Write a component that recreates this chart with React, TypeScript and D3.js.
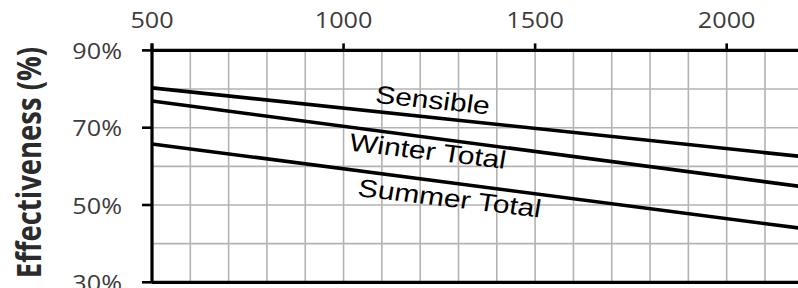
import { useEffect, useRef } from "react";
import * as d3 from "d3";

const xTicks = [500, 1000, 1500, 2000];
const yTicks = [30, 50, 70, 90];
const seriesNames = ["Sensible", "Winter Total", "Summer Total"];
const airflow = [500, 2200];
const sensible = [80.3, 62.5];
const winterTotal = [76.9, 54.7];
const summerTotal = [65.8, 43.9];
// label anchor points (airflow, effectiveness) for the in-chart labels
const labelX = [1233, 1220, 1277];
const labelY = [77.2, 64.0, 51.8];
const labelAngle = [7, 8, 8];

const App = () => {
    const svgRef = useRef<SVGSVGElement>(null);
    const W = 798;
    const H = 288;
    const stretch = 1.2;

    useEffect(() => {
        const svg = d3.select(svgRef.current);
        svg.selectAll("*").remove();

        const xScale = d3.scaleLinear().domain([500, 2200]).range([152, 803.3]);
        const yScale = d3.scaleLinear().domain([30, 90]).range([282.3, 50.4]);

        // grid
        svg
            .append("g")
            .selectAll("line")
            .data(d3.range(600, 2300, 100))
            .enter()
            .append("line")
            .attr("x1", (d) => xScale(d))
            .attr("x2", (d) => xScale(d))
            .attr("y1", yScale(90))
            .attr("y2", yScale(30))
            .style("stroke", "#b3b3b3")
            .style("stroke-width", 1.6);

        svg
            .append("g")
            .selectAll("line")
            .data(d3.range(40, 90, 10))
            .enter()
            .append("line")
            .attr("x1", xScale(500))
            .attr("x2", xScale(2200))
            .attr("y1", (d) => yScale(d))
            .attr("y2", (d) => yScale(d))
            .style("stroke", "#b3b3b3")
            .style("stroke-width", 1.6);

        // axes frame
        const axisStyle = (sel: any) => sel.style("stroke", "#000").style("stroke-width", 3.2);
        svg.append("line").attr("x1", xScale(500)).attr("x2", xScale(2200))
            .attr("y1", yScale(90)).attr("y2", yScale(90)).call(axisStyle);
        svg.append("line").attr("x1", xScale(500)).attr("x2", xScale(2200))
            .attr("y1", yScale(30)).attr("y2", yScale(30)).call(axisStyle);
        svg.append("line").attr("x1", xScale(500)).attr("x2", xScale(500))
            .attr("y1", yScale(90) - 7).attr("y2", yScale(30)).call(axisStyle);

        // top ticks
        svg.append("g").selectAll("line").data(xTicks).enter().append("line")
            .attr("x1", (d) => xScale(d)).attr("x2", (d) => xScale(d))
            .attr("y1", yScale(90) - 7).attr("y2", yScale(90))
            .style("stroke", "#000").style("stroke-width", 2.6);

        // left ticks
        svg.append("g").selectAll("line").data(yTicks).enter().append("line")
            .attr("x1", xScale(500) - 10).attr("x2", xScale(500))
            .attr("y1", (d) => yScale(d)).attr("y2", (d) => yScale(d))
            .style("stroke", "#000").style("stroke-width", 2.6);

        // top tick labels
        svg.append("g").selectAll("text").data(xTicks).enter().append("text")
            .attr("transform", (d) => `translate(${xScale(d)},27.5) scale(${stretch},1)`)
            .attr("text-anchor", "middle")
            .style("font-family", "'Open Sans', sans-serif")
            .style("font-size", "21px")
            .style("fill", "#3c3c3c")
            .text((d) => d);

        // left tick labels
        svg.append("g").selectAll("text").data(yTicks).enter().append("text")
            .attr("transform", (d) => `translate(122,${yScale(d) + 8.5}) scale(${stretch},1)`)
            .attr("text-anchor", "end")
            .style("font-family", "'Open Sans', sans-serif")
            .style("font-size", "21px")
            .style("fill", "#3c3c3c")
            .text((d) => `${d}%`);

        // Y axis title
        svg.append("text")
            .attr("transform", `translate(41,162.5) rotate(-90) scale(1,1.22)`)
            .attr("text-anchor", "middle")
            .style("font-family", "'Open Sans', sans-serif")
            .style("font-weight", "bold")
            .style("font-size", "27.5px")
            .style("fill", "#2b2b2b")
            .text("Effectiveness (%)");

        // lines
        const line = d3
            .line<number>()
            .x((d, i) => xScale(airflow[i]))
            .y((d) => yScale(d));

        [sensible, winterTotal, summerTotal].forEach((s) => {
            svg.append("path")
                .datum(s)
                .attr("d", line)
                .style("fill", "none")
                .style("stroke", "#000")
                .style("stroke-width", 3.6);
        });

        // line labels
        svg.append("g").selectAll("text").data(seriesNames).enter().append("text")
            .attr("transform", (d, i) =>
                `translate(${xScale(labelX[i])},${yScale(labelY[i])}) scale(${stretch},1) rotate(${labelAngle[i]})`)
            .attr("text-anchor", "middle")
            .attr("dy", "0.35em")
            .style("font-family", "'Liberation Sans', Arial, sans-serif")
            .style("font-size", "25px")
            .style("fill", "#000")
            .text((d) => d);
    }, []);

    return (
        <svg
            ref={svgRef}
            width={W}
            height={H}
            style={{ position: "fixed", top: 0, left: 0, background: "#fff" }}
        ></svg>
    );
};

export default App;
